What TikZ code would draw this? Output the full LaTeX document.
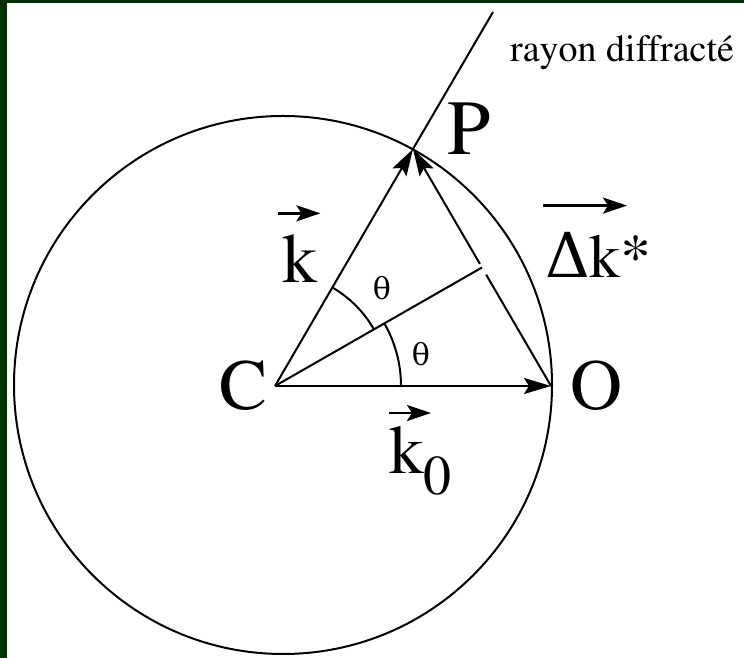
\documentclass[tikz,border=0pt]{standalone}
\usepackage[T1]{fontenc}
\usepackage{fontspec}
\newfontfamily\greekfont{DejaVu Serif}
\newcommand\timesfont{\fontencoding{T1}\fontfamily{ptm}\selectfont}
\usetikzlibrary{arrows.meta,positioning,calc}
\definecolor{framegreen}{RGB}{0,51,0}

\begin{document}
\begin{tikzpicture}[
  x=1pt, y=1pt,
  line/.style={line width=2pt},
  vec/.style={-{Stealth[length=27pt, width=16pt, inset=5pt]}, line width=2pt},
  over/.style={-{Stealth[length=24pt, width=16pt, inset=5pt]}, line width=2.6pt},
  lbl/.style={inner sep=0pt, font=\timesfont\fontsize{72}{72}\selectfont},
  ang/.style={inner sep=0pt, font=\greekfont\fontsize{30}{30}\selectfont}
]
\useasboundingbox (0,0) rectangle (744,658);
\fill[framegreen] (0,0) rectangle (7,658);
\fill[framegreen] (0,655) rectangle (744,658);

\coordinate (C) at (275,272);
\coordinate (O) at (551,272);
\coordinate (P) at (413,509);
\coordinate (R) at (493,646);
\coordinate (Z) at (283,273);
\coordinate (M) at ($(O)!0.5!(P)$);

\draw[line] (Z) circle[radius=269pt];
\draw[vec] (C) -- (O);
\draw[vec] (C) -- (P);
\draw[line] (P) -- (R);
\draw[line] (C) -- (M);
\draw[line] (O) -- ($(O)!0.47!(P)$);
\draw[vec] ($(O)!0.515!(P)$) -- (P);
\draw[line] (C) ++(59.8:114) arc[start angle=59.8, end angle=29.8, radius=114pt];
\draw[line] (C) ++(29.8:126) arc[start angle=29.8, end angle=0, radius=126pt];

\node[lbl, anchor=base east] (Clbl) at (268,248) {C};
\node[lbl, anchor=base west] (Olbl) at (570,248) {O};
\node[lbl, font=\timesfont\fontsize{78}{78}\selectfont, anchor=base west] (Plbl) at (447,503) {P};
\node[lbl, font=\timesfont\fontsize{70}{70}\selectfont, anchor=base west] (klbl) at (282,375) {k};
\node[lbl, font=\timesfont\fontsize{69}{69}\selectfont, anchor=base west] (kolbl) at (389,184) {k\raisebox{-21pt}{\fontsize{56}{56}\selectfont 0}};
\node[lbl, font=\timesfont\fontsize{62}{62}\selectfont, anchor=base west] (dklbl) at (545,380) {{\greekfont Δ}k*};
\node[ang] (theta1) at (382,370) {θ};
\node[ang] (theta2) at (421,304) {θ};
\node[anchor=base west, inner sep=0pt, font=\timesfont\fontsize{38}{38}\selectfont] (raylbl) at (510,596) {rayon diffracté};

\draw[over] ($(klbl.north west)+(-4,22)$) -- ($(klbl.north east)+(3,22)$);
\draw[over] ($(kolbl.north west)+(0,14)$) -- ++(42,0);
\draw[over] ($(dklbl.north west)+(-2,27)$) -- ++(84,0);
\end{tikzpicture}
\end{document}
